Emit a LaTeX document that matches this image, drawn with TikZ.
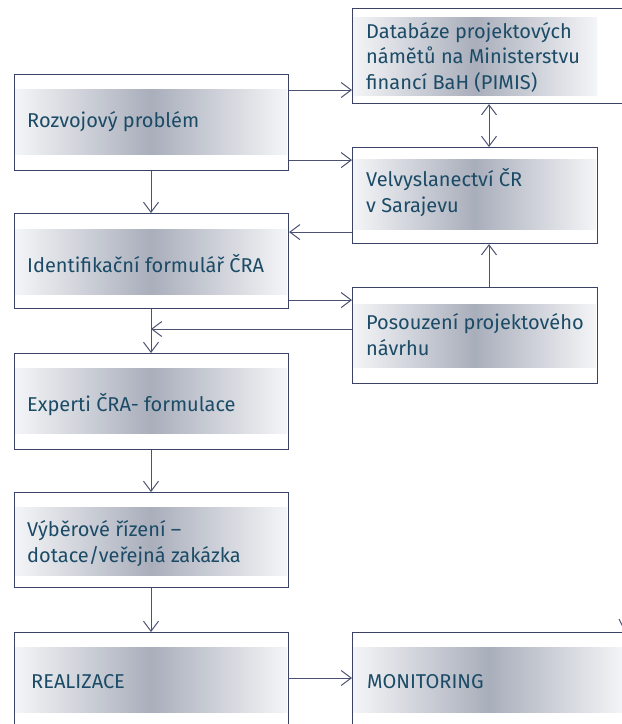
\documentclass[tikz,border=0pt]{standalone}
\usepackage{fontspec}
\setmainfont{Fira Sans}
\usetikzlibrary{arrows.meta,calc}
\definecolor{boxc}{HTML}{3A4366}
\definecolor{linec}{HTML}{4B5272}
\definecolor{txtc}{HTML}{1B4B66}
\definecolor{bandM}{HTML}{A9AEBB}
\definecolor{bandL}{HTML}{F4F5F7}
\tikzset{
  box/.style={draw=boxc, line width=1.1pt, fill=white, inner sep=0pt, anchor=north west},
  lbl/.style={text=txtc, font=\fontsize{20}{25.5}\selectfont, inner sep=0pt, anchor=base west, align=left},
  arr/.style={draw=linec, line width=1pt, -{Straight Barb[length=10pt,width=15pt,line width=1pt]}},
  darr/.style={draw=linec, line width=1pt, {Straight Barb[length=10pt,width=15pt,line width=1pt]}-{Straight Barb[length=10pt,width=15pt,line width=1pt]}},
}
\newcommand{\bandfill}[4]{\shade[left color=bandL, right color=bandL, middle color=bandM] (#1,#2) rectangle (#3,#4);}
\begin{document}
\begin{tikzpicture}[x=1pt,y=-1pt]
\useasboundingbox (0,0) rectangle (622,724);
\clip (0,0) rectangle (622,724);
% boxes
\node[box, minimum width=274pt, minimum height=96pt] (rozvoj) at (14,74) {};
\bandfill{15}{89}{287}{154}
\node[lbl] (trozvoj) at (27,127) {Rozvojový problém};

\node[box, minimum width=300pt, minimum height=95pt] (db) at (352,8) {};
\bandfill{353}{17}{597}{95}
\node[lbl] (tdb) at (366,89) {Databáze projektových\\námětů na Ministerstvu\\financí BaH (PIMIS)};

\node[box, minimum width=245pt, minimum height=96pt] (velv) at (352,147) {};
\bandfill{353}{159}{596}{229}
\node[lbl] (tvelv) at (366,212) {Velvyslanectví ČR\\v Sarajevu};

\node[box, minimum width=274pt, minimum height=95pt] (ident) at (14,213) {};
\bandfill{15}{229}{287}{294}
\node[lbl] (tident) at (27,272) {Identifikační formulář ČRA};

\node[box, minimum width=245pt, minimum height=96pt] (posou) at (352,287) {};
\bandfill{353}{304}{596}{367}
\node[lbl] (tposou) at (366,355) {Posouzení projektového\\návrhu};

\node[box, minimum width=274pt, minimum height=96pt] (expert) at (14,353) {};
\bandfill{15}{368}{287}{433}
\node[lbl] (texpert) at (27,411) {Experti ČRA- formulace};

\node[box, minimum width=274pt, minimum height=95pt] (vyber) at (14,492) {};
\bandfill{15}{507}{287}{575}
\node[lbl] (tvyber) at (27,562) {Výběrové řízení –\\dotace/veřejná zakázka};

\node[box, minimum width=274pt, minimum height=130pt] (real) at (14,632) {};
\bandfill{15}{647}{287}{712}
\node[lbl] (treal) at (31,688) {REALIZACE};

\node[box, minimum width=300pt, minimum height=130pt] (monit) at (352,632) {};
\bandfill{353}{647}{624}{712}
\node[lbl] (tmonit) at (367,688) {MONITORING};

% connectors
\coordinate (r1) at ([yshift=-16pt]rozvoj.north east);
\draw[arr] (r1) -- (r1 -| db.west);
\coordinate (r2) at ([yshift=11pt]rozvoj.south east);
\draw[arr] (r2) -- (r2 -| velv.west);
\coordinate (dbx) at (489,0);
\draw[darr] (dbx |- db.south) -- (dbx |- velv.north);
\coordinate (v1) at ([yshift=12pt]velv.south west);
\draw[arr] (v1) -- (v1 -| ident.east);
\coordinate (i1) at ([yshift=9pt]ident.south east);
\draw[arr] (i1) -- (i1 -| posou.west);
\draw[arr] (dbx |- posou.north) -- (dbx |- velv.south);
\coordinate (vx) at (151,0);
\draw[arr] (vx |- rozvoj.south) -- (vx |- ident.north);
\draw[arr] (vx |- ident.south) -- (vx |- expert.north);
\coordinate (p1) at ([yshift=-42pt]posou.north west);
\draw[arr] (p1) -- (p1 -| vx);
\draw[arr] (vx |- expert.south) -- (vx |- vyber.north);
\draw[arr] (vx |- vyber.south) -- (vx |- real.north);
\coordinate (m1) at (288,678);
\draw[arr] (m1) -- (m1 -| monit.west);
% fragment at right edge
\coordinate (f1) at (619,619);
\coordinate (f2) at (623,627);
\draw[draw=linec, line width=1pt] (f1) -- (f2);
\end{tikzpicture}
\end{document}
